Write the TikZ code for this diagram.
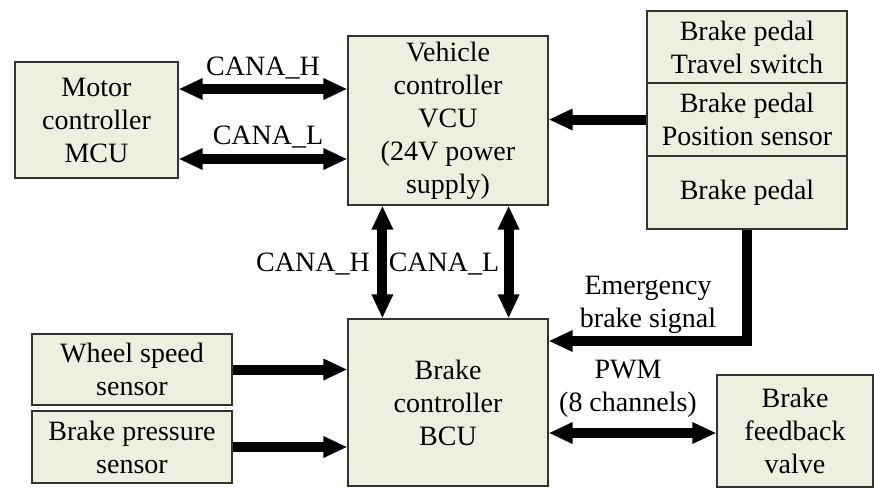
\documentclass[tikz,border=0pt]{standalone}
\usepackage{fontspec}
\setmainfont{Liberation Serif}
\usetikzlibrary{arrows.meta}
\definecolor{boxgreen}{RGB}{235,241,222}
\begin{document}
\begin{tikzpicture}[x=0.5pt,y=-0.5pt,
    blk/.style={draw=black!80,line width=0.6pt,fill=boxgreen,align=center,inner sep=0pt,font=\fontsize{14}{16.5}\selectfont},
    bus/.style={line width=5pt,{Triangle[length=12pt,width=10pt]}-{Triangle[length=12pt,width=10pt]}},
    sig/.style={line width=5pt,-{Triangle[length=12pt,width=10pt]}},
    lbl/.style={align=center,inner sep=0pt,font=\fontsize{14}{16.5}\selectfont}]
    \useasboundingbox (0,0) rectangle (874,488);
    \node[blk,minimum width=81.5pt,minimum height=58pt] (mcu) at (96.5,120) {Motor\\controller\\MCU};
    \node[blk,minimum width=100pt,minimum height=84.5pt] (vcu) at (448,120.5) {Vehicle\\controller\\VCU\\(24V power\\supply)};
    \node[blk,minimum width=100pt,minimum height=36pt] (sw) at (747,47) {Brake pedal\\Travel switch};
    \node[blk,minimum width=100pt,minimum height=36.5pt] (pos) at (747,119.5) {Brake pedal\\Position sensor};
    \node[blk,minimum width=100pt,minimum height=36.5pt] (ped) at (747,192.5) {Brake pedal};
    \node[blk,minimum width=100pt,minimum height=83.5pt] (bcu) at (448,402.5) {Brake\\controller\\BCU};
    \node[blk,minimum width=100pt,minimum height=35.5pt] (whl) at (132,369.5) {Wheel speed\\sensor};
    \node[blk,minimum width=100pt,minimum height=36pt] (prs) at (132,447) {Brake pressure\\sensor};
    \node[blk,minimum width=78pt,minimum height=56pt] (valve) at (795,431) {Brake\\feedback\\valve};
    \draw[bus] ([yshift=15.5pt]mcu.east) -- ([yshift=15.5pt]mcu.east -| vcu.west);
    \draw[bus] ([yshift=-19.5pt]mcu.east) -- ([yshift=-19.5pt]mcu.east -| vcu.west);
    \draw[sig] (pos.west) -- (pos.west -| vcu.east);
    \draw[bus] ([xshift=17.5pt]vcu.south west) -- ([xshift=17.5pt]bcu.north west);
    \draw[bus] ([xshift=-20pt]vcu.south east) -- ([xshift=-20pt]bcu.north east);
    \draw[sig] (whl.east) -- (whl.east -| bcu.west);
    \draw[sig] (prs.east) -- (prs.east -| bcu.west);
    \draw[sig] (ped.south) |- ([yshift=30.75pt]bcu.east);
    \draw[bus] ([yshift=-15.25pt]bcu.east) -- ([yshift=-15.25pt]bcu.east -| valve.west);
    \node[lbl] (canhtop) at (263,68) {CANA\_H};
    \node[lbl] (canltop) at (268,137) {CANA\_L};
    \node[lbl] (canhbus) at (313,264) {CANA\_H};
    \node[lbl] (canlbus) at (444,264) {CANA\_L};
    \node[lbl] (emg) at (648,305) {Emergency\\brake signal};
    \node[lbl] (pwm) at (628,389) {PWM\\(8 channels)};
\end{tikzpicture}
\end{document}
